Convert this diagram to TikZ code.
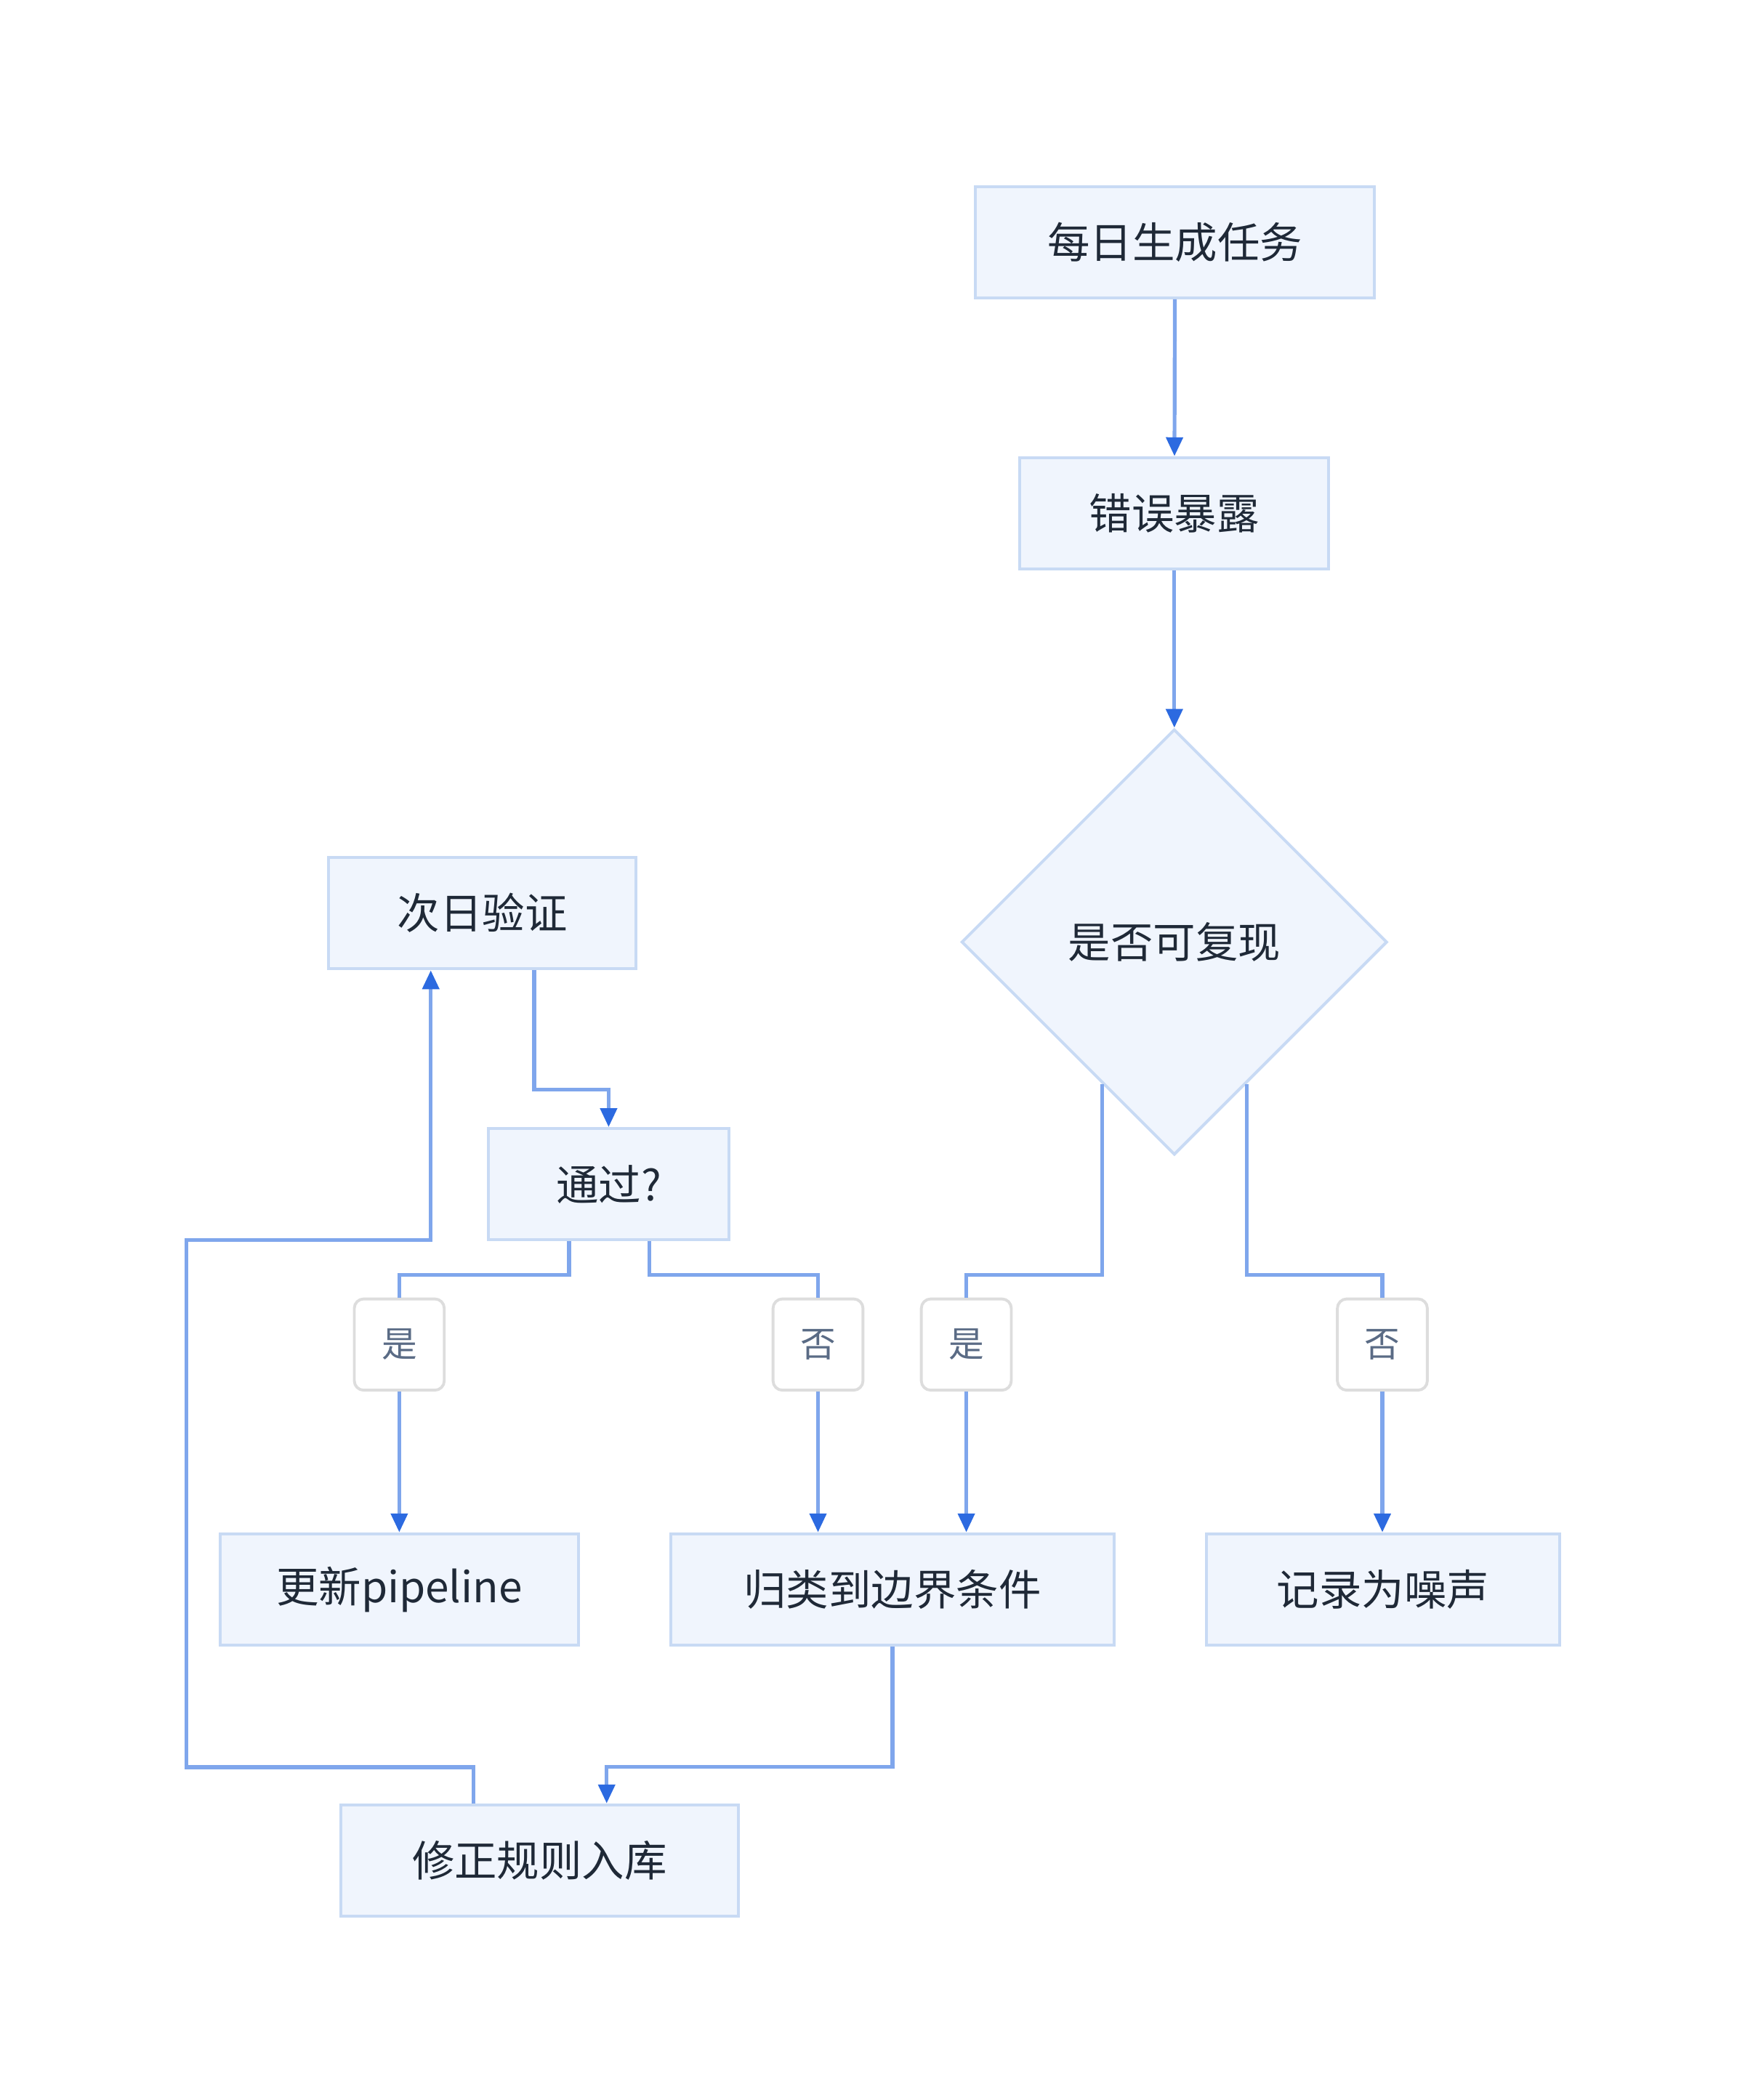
\documentclass[tikz,border=0pt]{standalone}
\usepackage{fontspec}
\setmainfont{Noto Sans CJK SC}
\usetikzlibrary{shapes.geometric,arrows.meta}
\definecolor{boxfill}{HTML}{F0F5FD}
\definecolor{boxline}{HTML}{C8DAF4}
\definecolor{linkline}{HTML}{7FA6EC}
\definecolor{tipblue}{HTML}{2C6AE0}
\definecolor{tagline}{HTML}{DDDDDD}
\definecolor{tagtext}{HTML}{5A6B85}
\definecolor{txt}{HTML}{1F2937}

\begin{document}
\begin{tikzpicture}[x=0.01cm, y=-0.01cm,
    box/.style={draw=boxline, fill=boxfill, line width=0.6pt, minimum height=0.83cm,
      text=txt, font=\fontsize{9pt}{11pt}\selectfont, inner sep=0pt},
    decide/.style={diamond, draw=boxline, fill=boxfill, line width=0.6pt,
      minimum width=3.17cm, minimum height=3.17cm, aspect=1, inner sep=0pt,
      text=txt, font=\fontsize{9pt}{11pt}\selectfont},
    tag/.style={draw=tagline, fill=white, rounded corners=2pt, line width=0.6pt,
      minimum width=0.67cm, minimum height=0.68cm, inner sep=0pt,
      text=tagtext, font=\fontsize{7.5pt}{9pt}\selectfont},
    link/.style={draw=linkline, line width=0.8pt},
    arrow/.style={link, -{Triangle[length=4pt,width=3.5pt,fill=tipblue,color=tipblue]}}]
  \useasboundingbox (0,0) rectangle (1300,1565);

  \node[box, minimum width=2.97cm] (task) at (875.5,180.5) {每日生成任务};
  \node[box, minimum width=2.30cm] (expose) at (875,382.5) {错误暴露};
  \node[decide] (repro) at (875,702) {是否可复现};
  \node[box, minimum width=2.29cm] (verify) at (359.5,680.5) {次日验证};
  \node[box, minimum width=1.79cm] (pass) at (453.5,882.5) {通过?};
  \node[box, minimum width=2.67cm] (update) at (297.5,1184.5) {更新pipeline};
  \node[box, minimum width=3.30cm] (edge) at (665,1184.5) {归类到边界条件};
  \node[box, minimum width=2.63cm] (noise) at (1030.5,1184.5) {记录为噪声};
  \node[box, minimum width=2.96cm] (rule) at (402,1386.5) {修正规则入库};

  \node[tag] (passyes) at (297.5,1002) {是};
  \node[tag] (passno) at (609.5,1002) {否};
  \node[tag] (reproyes) at (720,1002) {是};
  \node[tag] (reprono) at (1030,1002) {否};

  \draw[arrow] (task) -- (expose);
  \draw[arrow] (expose) -- (repro);

  % branches of the diamond
  \draw[link] (repro.-117) |- ([yshift=0.17cm]reproyes.north) -- (reproyes.north);
  \draw[arrow] (reproyes) -- (edge.north -| reproyes);
  \draw[link] (repro.-63) |- ([yshift=0.17cm]reprono.north) -- (reprono.north);
  \draw[arrow] (reprono) -- (noise.north -| reprono);

  % next-day check
  \draw[arrow] ([xshift=0.385cm]verify.south) |- ([yshift=0.28cm]pass.north) -- (pass.north);
  \draw[link] ([xshift=-0.295cm]pass.south) |- ([yshift=0.17cm]passyes.north) -- (passyes.north);
  \draw[arrow] (passyes) -- (update.north -| passyes);
  \draw[link] ([xshift=0.305cm]pass.south) |- ([yshift=0.17cm]passno.north) -- (passno.north);
  \draw[arrow] (passno) -- (edge.north -| passno);

  % rule loop
  \draw[arrow] (edge.south) |- ([xshift=0.5cm,yshift=0.27cm]rule.north) -- ([xshift=0.5cm]rule.north);
  \draw[arrow] ([xshift=-0.49cm]rule.north) -- ++(0,-27) -| (139,924) -| ([xshift=-0.385cm]verify.south);
\end{tikzpicture}
\end{document}
